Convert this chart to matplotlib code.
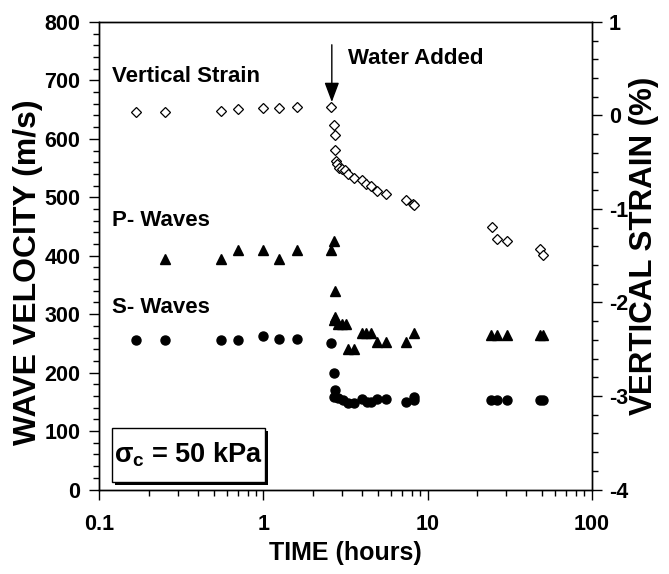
import matplotlib
matplotlib.use("Agg")
import matplotlib.pyplot as plt
from matplotlib.patches import Rectangle
from matplotlib.ticker import FixedLocator, MultipleLocator, LogLocator, NullFormatter

plt.rcParams['font.family'] = ['Liberation Sans', 'DejaVu Sans']
plt.rcParams['font.weight'] = 'bold'
plt.rcParams['axes.unicode_minus'] = False
plt.rcParams['mathtext.fontset'] = 'custom'
plt.rcParams['mathtext.rm'] = 'Liberation Sans:bold'
plt.rcParams['mathtext.it'] = 'Liberation Sans:bold'

# vertical strain (%) vs time (hours)
strain_t = [0.167, 0.25, 0.55, 0.70, 1.0, 1.25, 1.61, 2.58, 2.69, 2.73, 2.73, 2.76,
            2.82, 2.90, 3.0, 3.14, 3.29, 3.58, 3.97, 4.22, 4.51, 4.94, 5.58, 7.40,
            8.2, 8.3, 24.7, 26.5, 30.6, 48.5, 50.8]
strain = [0.032, 0.032, 0.053, 0.067, 0.082, 0.082, 0.093, 0.096, -0.099, -0.213,
          -0.374, -0.488, -0.523, -0.558, -0.576, -0.587, -0.622, -0.664, -0.694,
          -0.737, -0.758, -0.811, -0.840, -0.907, -0.942, -0.953, -1.192, -1.316,
          -1.342, -1.433, -1.487]

# P-wave velocity (m/s)
p_t = [0.25, 0.55, 0.70, 1.0, 1.25, 1.61, 2.58, 2.69, 2.73, 2.73, 2.70, 2.86, 3.0,
       3.17, 3.29, 3.58, 3.97, 4.22, 4.51, 4.94, 5.58, 7.40, 8.24, 24.3, 26.4,
       30.6, 48.5, 50.8]
p_vel = [394, 394, 410, 410, 394, 410, 410, 426, 340, 295, 290, 283, 283, 283, 241,
         241, 267, 267, 267, 252, 252, 252, 267, 264, 264, 264, 264, 264]

# S-wave velocity (m/s)
s_t = [0.167, 0.25, 0.55, 0.70, 1.0, 1.25, 1.61, 2.58, 2.69, 2.73, 2.70, 2.86, 3.04,
       3.29, 3.58, 3.97, 4.26, 4.52, 4.94, 5.58, 7.40, 8.24, 8.24, 24.3, 26.4,
       30.6, 48.5, 50.8]
s_vel = [256, 256, 256, 256, 263, 257, 257, 250, 200, 171, 158, 156, 154, 148, 148,
         155, 150, 150, 155, 155, 149, 159, 153, 153, 153, 153, 153, 153]

x_ticks = [0.1, 1, 10, 100]
x_labels = ['0.1', '1', '10', '100']

fig = plt.figure(figsize=(6.69, 5.74), dpi=100)
ax = fig.add_axes([0.1484, 0.1472, 0.7361, 0.8145])
ax2 = ax.twinx()

ax.plot(p_t, p_vel, ls='none', marker='^', ms=7, color='black')
ax.plot(s_t, s_vel, ls='none', marker='o', ms=6.5, color='black')
ax2.plot(strain_t, strain, ls='none', marker='D', ms=5, mfc='white', mec='black', mew=0.9)

ax.set_xscale('log')
ax.set_xlim(0.1, 100)
ax.set_ylim(0, 800)
ax2.set_ylim(-4, 1)

ax.xaxis.set_major_locator(FixedLocator(x_ticks))
ax.set_xticklabels(x_labels)
ax.xaxis.set_minor_locator(LogLocator(base=10, subs=range(2, 10)))
ax.xaxis.set_minor_formatter(NullFormatter())
ax.yaxis.set_major_locator(MultipleLocator(100))
ax.yaxis.set_minor_locator(MultipleLocator(20))
ax2.yaxis.set_major_locator(MultipleLocator(1))
ax2.yaxis.set_minor_locator(MultipleLocator(0.2))

for a in (ax, ax2):
    a.tick_params(which='major', length=7.5, width=1, direction='out', labelsize=15.5)
    a.tick_params(which='minor', length=4.5, width=1, direction='out')
    for sp in a.spines.values():
        sp.set_linewidth(1)
ax.tick_params(axis='x', which='major', pad=10)
ax.tick_params(axis='y', pad=6)
ax2.tick_params(axis='y', pad=5)

fig.text(28 / 669, 1 - 272 / 574, 'WAVE VELOCITY (m/s)', rotation=90, ha='center', va='center',
         fontsize=23, fontweight='bold')
fig.text(644 / 669, 1 - 246 / 574, 'VERTICAL STRAIN (%)', rotation=90, ha='center', va='center',
         fontsize=22.5, fontweight='bold')
fig.text(345 / 669, 1 - 553 / 574, 'TIME (hours)', ha='center', va='center',
         fontsize=18, fontweight='bold')

ax.text(0.1195, 707, 'Vertical Strain', fontsize=16, va='center', ha='left')
ax.text(0.1195, 461, 'P- Waves', fontsize=16, va='center', ha='left')
ax.text(0.1195, 312, 'S- Waves', fontsize=16, va='center', ha='left')
ax.text(3.26, 737, 'Water Added', fontsize=16, va='center', ha='left')
ax.annotate('', xy=(2.61, 663), xytext=(2.61, 761),
            arrowprops=dict(arrowstyle='-|>,head_length=0.8,head_width=0.3',
                            mutation_scale=15, color='black', lw=1, shrinkA=0, shrinkB=0))

# boxed confining stress label with shadow
bx0, bx1, by0, by1 = 0.0252, 0.3365, 0.016, 0.1326
dx, dy = 3 / 492.4, 3 / 467.5
ax2.add_patch(Rectangle((bx0 + dx, by0 - dy), bx1 - bx0, by1 - by0, transform=ax2.transAxes,
                        facecolor='black', edgecolor='black', lw=0, zorder=5, clip_on=False))
ax2.add_patch(Rectangle((bx0, by0), bx1 - bx0, by1 - by0, transform=ax2.transAxes,
                        facecolor='white', edgecolor='black', lw=1, zorder=6, clip_on=False))
ax2.text((bx0 + bx1) / 2, (by0 + by1) / 2, r'$\sigma_{\mathrm{c}}$ = 50 kPa', transform=ax2.transAxes,
         ha='center', va='center', fontsize=19.5, zorder=7)

fig.savefig('out.png', dpi=100)
